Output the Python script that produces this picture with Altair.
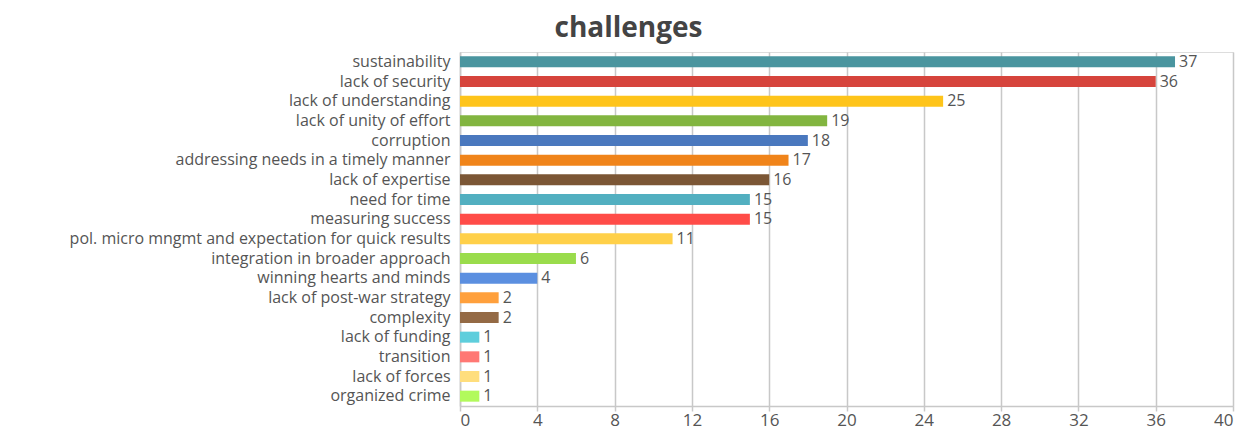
import altair as alt
import pandas as pd

categories = [
    "sustainability", "lack of security", "lack of understanding",
    "lack of unity of effort", "corruption", "addressing needs in a timely manner",
    "lack of expertise", "need for time", "measuring success",
    "pol. micro mngmt and expectation for quick results",
    "integration in broader approach", "winning hearts and minds",
    "lack of post-war strategy", "complexity", "lack of funding",
    "transition", "lack of forces", "organized crime",
]
values = [37, 36, 25, 19, 18, 17, 16, 15, 15, 11, 6, 4, 2, 2, 1, 1, 1, 1]
colors = [
    "#4A959F", "#D6443C", "#FEC41A", "#82B540", "#4A78BE", "#F0841A",
    "#7B5635", "#52AFC0", "#FF4C48", "#FFD049", "#9ADC4C", "#5B8FE0",
    "#FFA03C", "#946A45", "#5ECEDC", "#FF7874", "#FFDE7D", "#B2FA5C",
]
x_ticks = list(range(0, 41, 4))

df = pd.DataFrame({"category": categories, "value": values, "color": colors})

FONT = "Open Sans"
TXT = "#555555"
FS = 16

base = alt.Chart(df).encode(
    y=alt.Y("category:N", sort=categories,
            scale=alt.Scale(paddingInner=0.44, paddingOuter=0.22),
            axis=alt.Axis(title=None, ticks=False, labelPadding=10,
                          labelFontSize=FS, labelColor=TXT, labelFont=FONT,
                          domainColor="#c8c8c8", domainWidth=1.5,
                          labelLimit=600)),
)

bars = base.mark_bar().encode(
    x=alt.X("value:Q",
            scale=alt.Scale(domain=[0, 40], nice=False),
            axis=alt.Axis(title=None, values=x_ticks, grid=True,
                          gridColor="#c8c8c8", gridWidth=1.5,
                          domainColor="#c8c8c8", domainWidth=1.5,
                          tickColor="#c8c8c8", tickWidth=1.5, tickSize=5,
                          labelFontSize=17, labelColor=TXT, labelFont=FONT,
                          labelPadding=1)),
    color=alt.Color("color:N", scale=None),
)

labels = base.mark_text(align="left", baseline="middle", dx=4,
                        fontSize=FS, color=TXT, font=FONT).encode(
    x="value:Q",
    text="value:Q",
)

chart = (bars + labels).properties(
    width=773,
    height=354,
    title=alt.TitleParams("challenges", fontSize=28, font=FONT,
                          fontWeight="bold", color="#444444",
                          anchor="middle", dx=-218, offset=9),
    autosize=alt.AutoSizeParams(type="none"),
    padding={"left": 460, "top": 52, "right": 24, "bottom": 24},
).configure_view(stroke=None).configure(background="white")

chart.save("out.html", embed_options={"renderer": "svg", "actions": False})
